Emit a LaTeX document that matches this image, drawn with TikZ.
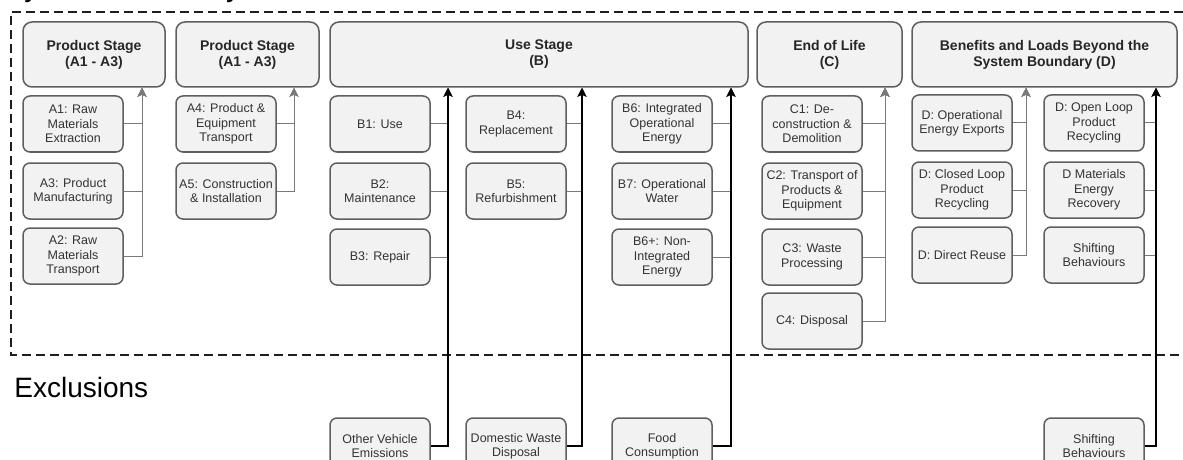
\documentclass[tikz,border=0pt]{standalone}
\usepackage{fontspec}
\setmainfont{Liberation Sans}
\usetikzlibrary{arrows.meta}
\definecolor{boxfill}{HTML}{F2F2F2}
\definecolor{boxline}{HTML}{5E5E5E}
\definecolor{boxtext}{HTML}{333333}
\definecolor{hdrtext}{HTML}{262626}
\definecolor{linkgray}{HTML}{7A7A7A}
\definecolor{boundary}{HTML}{1E1E1E}

\begin{document}
\begin{tikzpicture}[x=0.5pt,y=-0.5pt,
  stagebox/.style={draw=boxline, fill=boxfill, line width=0.75pt,
    rounded corners=3.5pt, minimum width=50pt, minimum height=28pt,
    inner sep=0pt, align=center, text=boxtext,
    font=\fontsize{6.25}{7.2}\selectfont},
  hdrbox/.style={draw=boxline, fill=boxfill, line width=0.75pt,
    rounded corners=4.5pt, minimum height=32.5pt, inner sep=0pt,
    align=center, text=hdrtext, font=\fontsize{7}{8}\selectfont\bfseries},
  graylink/.style={draw=linkgray, line width=0.5pt,
    -{Stealth[length=4.5pt,width=4.5pt,inset=1pt]}},
  blacklink/.style={draw=black, line width=0.65pt,
    -{Stealth[length=4.5pt,width=4.5pt,inset=1pt]}},
  boundaryline/.style={draw=boundary, line width=1.1pt,
    dash pattern=on 4.5pt off 2.5pt},
  bigtext/.style={anchor=base west, inner sep=0pt, text=black}
]
\path[use as bounding box, clip] (0,0) rectangle (1183,460);

% heading cut by the top edge
\node[bigtext, font=\fontsize{15}{18}\selectfont] (title) at (4,-3) {System Boundary};

% system boundary
\draw[boundaryline] (1183,12) -- (11,12) -- (11,355) -- (1183,355);
\node[bigtext, font=\fontsize{14}{17}\selectfont] (excl) at (14,397) {Exclusions};

% stage headers
\node[hdrbox, minimum width=71pt]   (hA)  at (94,54.5)    {Product Stage\\(A1 - A3)};
\node[hdrbox, minimum width=71.5pt] (hA2) at (247.5,54.5) {Product Stage\\(A1 - A3)};
\node[hdrbox, minimum width=209pt]  (hB)  at (539,54.5)   {Use Stage\\(B)};
\node[hdrbox, minimum width=72.5pt] (hC)  at (829.5,54.5) {End of Life\\(C)};
\node[hdrbox, minimum width=132.5pt](hD)  at (1044.5,54.5){Benefits and Loads Beyond the\\System Boundary (D)};

% bus columns
\coordinate (busA)  at (142,0);
\coordinate (busA2) at (294,0);
\coordinate (busB1) at (448,0);
\coordinate (busB2) at (582,0);
\coordinate (busB3) at (731,0);
\coordinate (busC)  at (885,0);
\coordinate (busD1) at (1026,0);
\coordinate (busD2) at (1156,0);

% modules
\node[stagebox] (A1) at (73,124) {A1: Raw\\Materials\\Extraction};
\node[stagebox] (A3) at (73,191) {A3: Product\\Manufacturing};
\node[stagebox] (A2) at (73,256) {A2: Raw\\Materials\\Transport};

\node[stagebox] (A4) at (226,124) {A4: Product \&\\Equipment\\Transport};
\node[stagebox] (A5) at (226,191) {A5: Construction\\\& Installation};

\node[stagebox] (B1) at (380,124) {B1: Use};
\node[stagebox] (B2) at (380,191) {B2:\\Maintenance};
\node[stagebox] (B3) at (380,257) {B3: Repair};

\node[stagebox] (B4) at (516,124) {B4:\\Replacement};
\node[stagebox] (B5) at (516,191) {B5:\\Refurbishment};

\node[stagebox] (B6)  at (662,124) {B6: Integrated\\Operational\\Energy};
\node[stagebox] (B7)  at (662,191) {B7: Operational\\Water};
\node[stagebox] (B6p) at (662,257) {B6+: Non-\\Integrated\\Energy};

\node[stagebox] (C1) at (812,124) {C1: De-\\construction \&\\Demolition};
\node[stagebox] (C2) at (812,191) {C2: Transport of\\Products \&\\Equipment};
\node[stagebox] (C3) at (812,257) {C3: Waste\\Processing};
\node[stagebox] (C4) at (812,321) {C4: Disposal};

\node[stagebox] (D1) at (962,123) {D: Operational\\Energy Exports};
\node[stagebox] (D2) at (962,190) {D: Closed Loop\\Product\\Recycling};
\node[stagebox] (D3) at (962,255) {D: Direct Reuse};

\node[stagebox] (D4) at (1094,123) {D: Open Loop\\Product\\Recycling};
\node[stagebox] (D5) at (1094,190) {D Materials\\Energy\\Recovery};
\node[stagebox] (D6) at (1094,255) {Shifting\\Behaviours};

% excluded items
\node[stagebox] (X1) at (380,446)  {Other Vehicle\\Emissions};
\node[stagebox] (X2) at (516,446)  {Domestic Waste\\Disposal};
\node[stagebox] (X3) at (662,446)  {Food\\Consumption};
\node[stagebox] (X4) at (1094,446) {Shifting\\Behaviours};

% module links
\foreach \m/\h/\c in {A1/hA/busA, A3/hA/busA, A2/hA/busA,
    A4/hA2/busA2, A5/hA2/busA2,
    B1/hB/busB1, B2/hB/busB1, B3/hB/busB1,
    B4/hB/busB2, B5/hB/busB2,
    B6/hB/busB3, B7/hB/busB3, B6p/hB/busB3,
    C1/hC/busC, C2/hC/busC, C3/hC/busC, C4/hC/busC,
    D1/hD/busD1, D2/hD/busD1, D3/hD/busD1,
    D4/hD/busD2, D5/hD/busD2, D6/hD/busD2}
  \draw[graylink] (\m.east) -| (\h.south -| \c);

% exclusion links
\foreach \m/\h/\c in {X1/hB/busB1, X2/hB/busB2, X3/hB/busB3, X4/hD/busD2}
  \draw[blacklink] (\m.east) -| (\h.south -| \c);
\end{tikzpicture}
\end{document}
